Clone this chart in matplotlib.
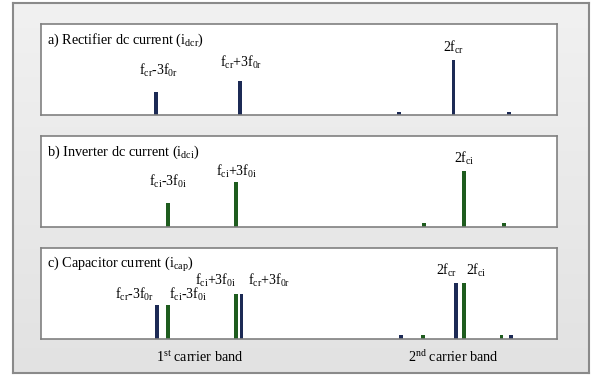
import matplotlib
matplotlib.use("Agg")
import matplotlib.pyplot as plt
import numpy as np

plt.rcParams['font.family'] = ['Liberation Serif', 'DejaVu Serif']
plt.rcParams['mathtext.fontset'] = 'custom'
plt.rcParams['mathtext.rm'] = 'Liberation Serif'
plt.rcParams['mathtext.it'] = 'Liberation Serif:italic'

NAVY = '#1c2a55'
GREEN = '#1e5c1e'

# Panel a) rectifier dc current
a_pos = [22.3, 38.6, 69.4, 80.0, 90.7]
a_amp = [0.25, 0.37, 0.035, 0.60, 0.035]
a_col = [NAVY] * 5
a_lab = [r'f$_{\rm cr}$-3f$_{\rm 0r}$', r'f$_{\rm cr}$+3f$_{\rm 0r}$', '', r'2f$_{\rm cr}$', '']

# Panel b) inverter dc current
b_pos = [24.6, 37.8, 74.2, 82.0, 89.7]
b_amp = [0.26, 0.49, 0.04, 0.62, 0.04]
b_col = [GREEN] * 5
b_lab = [r'f$_{\rm ci}$-3f$_{\rm 0i}$', r'f$_{\rm ci}$+3f$_{\rm 0i}$', '', r'2f$_{\rm ci}$', '']

# Panel c) capacitor current
c_pos = [22.5, 24.6, 37.8, 38.8, 69.8, 74.0, 80.4, 82.0, 89.3, 91.1]
c_amp = [0.37, 0.37, 0.49, 0.49, 0.04, 0.04, 0.62, 0.62, 0.04, 0.04]
c_col = [NAVY, GREEN, GREEN, NAVY, NAVY, GREEN, NAVY, GREEN, GREEN, NAVY]
c_lab = [r'f$_{\rm cr}$-3f$_{\rm 0r}$', r'f$_{\rm ci}$-3f$_{\rm 0i}$',
         r'f$_{\rm ci}$+3f$_{\rm 0i}$', r'f$_{\rm cr}$+3f$_{\rm 0r}$',
         '', '', r'2f$_{\rm cr}$', r'2f$_{\rm ci}$', '', '']

titles = [r'a) Rectifier dc current (i$_{\rm dcr}$)',
          r'b) Inverter dc current (i$_{\rm dci}$)',
          r'c) Capacitor current (i$_{\rm cap}$)']
band_labels = [r'1$^{\rm st}$ carrier band', r'2$^{\rm nd}$ carrier band']
band_pos = [30.8, 79.9]

# label placement (style): alignment, x offset px, gap above bar px
a_fmt = [('center', 2, 13), ('center', 1, 10), None, ('center', 0, 4), None]
b_fmt = [('center', 0, 13), ('center', 0, 2), None, ('center', 0, 4), None]
c_fmt = [('right', -3, 2), ('left', 1, 2), ('right', 0, 5), ('left', 7, 5),
         None, None, ('right', 1, 4), ('left', 2, 4), None, None]

W, H = 595, 375
PT = 0.72  # points per pixel at dpi 100
fig = plt.figure(figsize=(W / 100, H / 100), dpi=100)
fig.patch.set_facecolor('white')

# background gradient box
bg = fig.add_axes([13 / W, (H - 373) / H, 576 / W, 370 / H])
grad = np.linspace(0, 1, 256).reshape(-1, 1)
bg.imshow(grad, aspect='auto', cmap=matplotlib.colors.LinearSegmentedColormap.from_list(
    'g', ['#f1f1f1', '#e2e2e2']), extent=[0, 1, 0, 1], origin='upper')
bg.set_xticks([]); bg.set_yticks([])
for s in bg.spines.values():
    s.set_color('#8a8a8a'); s.set_linewidth(1.5)

panels = [(a_pos, a_amp, a_col, a_lab, a_fmt, 24),
          (b_pos, b_amp, b_col, b_lab, b_fmt, 136),
          (c_pos, c_amp, c_col, c_lab, c_fmt, 248)]

axes = []
for i, (pos, amp, col, lab, fmt, top) in enumerate(panels):
    ax = fig.add_axes([41 / W, (H - top - 91) / H, 516 / W, 91 / H])
    ax.set_facecolor('white')
    ax.set_xlim(0, 100)
    ax.set_ylim(0, 1)
    ax.bar(pos, amp, width=0.65, color=col, align='center')
    for p, a, l, f in zip(pos, amp, lab, fmt):
        if not l:
            continue
        ha, dx, dy = f
        ax.annotate(l, (p, a), xytext=(dx * PT, dy * PT), textcoords='offset points',
                    ha=ha, va='bottom', fontsize=10)
    ax.text(6 / 516, 1 - 16 / 91, titles[i], transform=ax.transAxes,
            ha='left', va='center', fontsize=10.3)
    ax.set_xticks([]); ax.set_yticks([])
    for s in ax.spines.values():
        s.set_color('#808080'); s.set_linewidth(1.2)
    axes.append(ax)

for bp, bl in zip(band_pos, band_labels):
    axes[2].text(bp, -18 / 91, bl, transform=axes[2].get_xaxis_transform(),
                 ha='center', va='center', fontsize=10.2)

fig.savefig('out.png', dpi=100)
